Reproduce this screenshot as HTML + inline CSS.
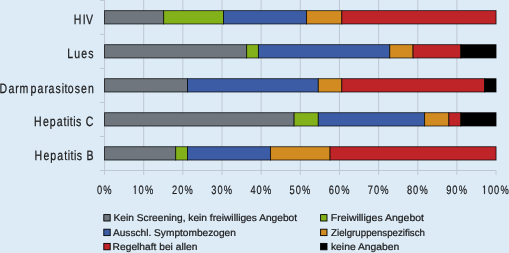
<!DOCTYPE html>
<html><head><meta charset="utf-8"><style>
html,body{margin:0;padding:0;background:#ddebf7;width:509px;height:253px;overflow:hidden}
svg{display:block;will-change:transform}
text{font-family:"Liberation Sans",sans-serif;fill:#1a1a1a;text-rendering:geometricPrecision}
.yl{font-size:12px;stroke:#1a1a1a;stroke-width:0.25px}
.xl{font-size:11px;stroke:#1a1a1a;stroke-width:0.2px}
.lg{font-size:9.8px;stroke:#1a1a1a;stroke-width:0.22px}
</style></head><body>
<svg width="509" height="253" viewBox="0 0 509 253">
<line x1="143.70" y1="0" x2="143.70" y2="174.80" stroke="#bec8d3" stroke-width="1"/>
<line x1="182.85" y1="0" x2="182.85" y2="174.80" stroke="#bec8d3" stroke-width="1"/>
<line x1="222.00" y1="0" x2="222.00" y2="174.80" stroke="#bec8d3" stroke-width="1"/>
<line x1="261.15" y1="0" x2="261.15" y2="174.80" stroke="#bec8d3" stroke-width="1"/>
<line x1="300.30" y1="0" x2="300.30" y2="174.80" stroke="#bec8d3" stroke-width="1"/>
<line x1="339.45" y1="0" x2="339.45" y2="174.80" stroke="#bec8d3" stroke-width="1"/>
<line x1="378.60" y1="0" x2="378.60" y2="174.80" stroke="#bec8d3" stroke-width="1"/>
<line x1="417.75" y1="0" x2="417.75" y2="174.80" stroke="#bec8d3" stroke-width="1"/>
<line x1="456.90" y1="0" x2="456.90" y2="174.80" stroke="#bec8d3" stroke-width="1"/>
<line x1="496.05" y1="170.50" x2="496.05" y2="174.80" stroke="#bec8d3" stroke-width="1"/>
<line x1="100" y1="170.50" x2="496.05" y2="170.50" stroke="#bec8d3" stroke-width="1"/>
<line x1="104.55" y1="0" x2="104.55" y2="174.80" stroke="#bec8d3" stroke-width="1"/>
<line x1="100" y1="0.40" x2="104.55" y2="0.40" stroke="#bec8d3" stroke-width="1"/>
<line x1="100" y1="34.42" x2="104.55" y2="34.42" stroke="#bec8d3" stroke-width="1"/>
<line x1="100" y1="68.44" x2="104.55" y2="68.44" stroke="#bec8d3" stroke-width="1"/>
<line x1="100" y1="102.46" x2="104.55" y2="102.46" stroke="#bec8d3" stroke-width="1"/>
<line x1="100" y1="136.48" x2="104.55" y2="136.48" stroke="#bec8d3" stroke-width="1"/>
<line x1="100" y1="170.50" x2="104.55" y2="170.50" stroke="#bec8d3" stroke-width="1"/>
<rect x="104.55" y="10.65" width="59.12" height="13.3" fill="#6f767e" stroke="#000000" stroke-opacity="0.78" stroke-width="0.9"/>
<rect x="163.67" y="10.65" width="59.90" height="13.3" fill="#83b119" stroke="#000000" stroke-opacity="0.78" stroke-width="0.9"/>
<rect x="223.57" y="10.65" width="83.00" height="13.3" fill="#3c5da6" stroke="#000000" stroke-opacity="0.78" stroke-width="0.9"/>
<rect x="306.56" y="10.65" width="35.24" height="13.3" fill="#d28b21" stroke="#000000" stroke-opacity="0.78" stroke-width="0.9"/>
<rect x="341.80" y="10.65" width="154.25" height="13.3" fill="#bf2429" stroke="#000000" stroke-opacity="0.78" stroke-width="0.9"/>
<rect x="104.55" y="44.67" width="142.11" height="13.3" fill="#6f767e" stroke="#000000" stroke-opacity="0.78" stroke-width="0.9"/>
<rect x="246.66" y="44.67" width="11.75" height="13.3" fill="#83b119" stroke="#000000" stroke-opacity="0.78" stroke-width="0.9"/>
<rect x="258.41" y="44.67" width="131.35" height="13.3" fill="#3c5da6" stroke="#000000" stroke-opacity="0.78" stroke-width="0.9"/>
<rect x="389.76" y="44.67" width="23.29" height="13.3" fill="#d28b21" stroke="#000000" stroke-opacity="0.78" stroke-width="0.9"/>
<rect x="413.05" y="44.67" width="47.76" height="13.3" fill="#bf2429" stroke="#000000" stroke-opacity="0.78" stroke-width="0.9"/>
<rect x="460.81" y="44.67" width="35.24" height="13.3" fill="#000000" stroke="#000000" stroke-opacity="0.78" stroke-width="0.9"/>
<rect x="104.55" y="78.69" width="83.00" height="13.3" fill="#6f767e" stroke="#000000" stroke-opacity="0.78" stroke-width="0.9"/>
<rect x="187.55" y="78.69" width="130.76" height="13.3" fill="#3c5da6" stroke="#000000" stroke-opacity="0.78" stroke-width="0.9"/>
<rect x="318.31" y="78.69" width="23.49" height="13.3" fill="#d28b21" stroke="#000000" stroke-opacity="0.78" stroke-width="0.9"/>
<rect x="341.80" y="78.69" width="142.70" height="13.3" fill="#bf2429" stroke="#000000" stroke-opacity="0.78" stroke-width="0.9"/>
<rect x="484.50" y="78.69" width="11.55" height="13.3" fill="#000000" stroke="#000000" stroke-opacity="0.78" stroke-width="0.9"/>
<rect x="104.55" y="112.71" width="189.56" height="13.3" fill="#6f767e" stroke="#000000" stroke-opacity="0.78" stroke-width="0.9"/>
<rect x="294.11" y="112.71" width="24.19" height="13.3" fill="#83b119" stroke="#000000" stroke-opacity="0.78" stroke-width="0.9"/>
<rect x="318.31" y="112.71" width="106.29" height="13.3" fill="#3c5da6" stroke="#000000" stroke-opacity="0.78" stroke-width="0.9"/>
<rect x="424.60" y="112.71" width="24.27" height="13.3" fill="#d28b21" stroke="#000000" stroke-opacity="0.78" stroke-width="0.9"/>
<rect x="448.87" y="112.71" width="11.94" height="13.3" fill="#bf2429" stroke="#000000" stroke-opacity="0.78" stroke-width="0.9"/>
<rect x="460.81" y="112.71" width="35.24" height="13.3" fill="#000000" stroke="#000000" stroke-opacity="0.78" stroke-width="0.9"/>
<rect x="104.55" y="146.73" width="71.14" height="13.3" fill="#6f767e" stroke="#000000" stroke-opacity="0.78" stroke-width="0.9"/>
<rect x="175.69" y="146.73" width="11.86" height="13.3" fill="#83b119" stroke="#000000" stroke-opacity="0.78" stroke-width="0.9"/>
<rect x="187.55" y="146.73" width="83.00" height="13.3" fill="#3c5da6" stroke="#000000" stroke-opacity="0.78" stroke-width="0.9"/>
<rect x="270.55" y="146.73" width="59.51" height="13.3" fill="#d28b21" stroke="#000000" stroke-opacity="0.78" stroke-width="0.9"/>
<rect x="330.05" y="146.73" width="166.00" height="13.3" fill="#bf2429" stroke="#000000" stroke-opacity="0.78" stroke-width="0.9"/>
<rect x="103.8" y="214.60" width="6.4" height="6.4" fill="#6f767e" stroke="#000000" stroke-width="0.9"/>
<rect x="103.8" y="229.20" width="6.4" height="6.4" fill="#3c5da6" stroke="#000000" stroke-width="0.9"/>
<rect x="103.8" y="243.40" width="6.4" height="6.4" fill="#bf2429" stroke="#000000" stroke-width="0.9"/>
<rect x="320.6" y="214.60" width="6.4" height="6.4" fill="#83b119" stroke="#000000" stroke-width="0.9"/>
<rect x="320.6" y="229.20" width="6.4" height="6.4" fill="#d28b21" stroke="#000000" stroke-width="0.9"/>
<rect x="320.6" y="243.40" width="6.4" height="6.4" fill="#000000" stroke="#000000" stroke-width="0.9"/>
<text transform="scale(0.77,1)" x="125.82 134.16" y="193.90" class="xl" style="font-size:12.1px">0%</text>
<text transform="scale(0.77,1)" x="179.99 188.32" y="193.90" class="xl" style="font-size:12.1px">0%</text>
<path d="M515,0 L515,1220 L300,1060 L300,1215 L545,1409 L696,1409 L696,0 Z" transform="translate(132.47,193.90) scale(0.00455,-0.00591)" fill="#1a1a1a" stroke="#1a1a1a" stroke-width="0.2" vector-effect="non-scaling-stroke"/>
<text transform="scale(0.77,1)" x="223.47 231.42 239.75" y="193.90" class="xl" style="font-size:12.1px">20%</text>
<text transform="scale(0.77,1)" x="274.39 282.33 290.67" y="193.90" class="xl" style="font-size:12.1px">30%</text>
<text transform="scale(0.77,1)" x="325.32 333.27 341.60" y="193.90" class="xl" style="font-size:12.1px">40%</text>
<text transform="scale(0.77,1)" x="376.06 384.01 392.34" y="193.90" class="xl" style="font-size:12.1px">50%</text>
<text transform="scale(0.77,1)" x="426.84 434.79 443.12" y="193.90" class="xl" style="font-size:12.1px">60%</text>
<text transform="scale(0.77,1)" x="477.68 485.63 493.96" y="193.90" class="xl" style="font-size:12.1px">70%</text>
<text transform="scale(0.77,1)" x="528.58 536.52 544.86" y="193.90" class="xl" style="font-size:12.1px">80%</text>
<text transform="scale(0.77,1)" x="579.40 587.34 595.68" y="193.90" class="xl" style="font-size:12.1px">90%</text>
<text transform="scale(0.77,1)" x="633.61 641.56 649.89" y="193.90" class="xl" style="font-size:12.1px">00%</text>
<path d="M515,0 L515,1220 L300,1060 L300,1215 L545,1409 L696,1409 L696,0 Z" transform="translate(481.76,193.90) scale(0.00455,-0.00591)" fill="#1a1a1a" stroke="#1a1a1a" stroke-width="0.2" vector-effect="non-scaling-stroke"/>
<text transform="scale(0.78,1)" x="94.66 106.22 110.29" y="24.00" class="yl" style="font-size:13.5px">HIV</text>
<text transform="scale(0.78,1)" x="86.20 95.21 104.22 113.22" y="58.30" class="yl" style="font-size:13.5px">Lues</text>
<text transform="scale(0.78,1)" x="-0.72 10.79 19.66 24.97 39.17 48.04 56.91 62.22 71.08 79.05 82.60 87.02 95.89 103.86 112.73" y="92.60" class="yl" style="font-size:13.5px">Darmparasitosen</text>
<text transform="scale(0.78,1)" x="43.51 55.00 63.86 72.71 81.57 85.99 89.53 93.95 97.48 105.44 109.87" y="126.00" class="yl" style="font-size:13.5px">Hepatitis C</text>
<text transform="scale(0.78,1)" x="44.15 55.70 64.59 73.49 82.38 86.82 90.38 94.82 98.37 106.37 110.81" y="160.00" class="yl" style="font-size:13.5px">Hepatitis B</text>
<text x="113.53" y="221.00" textLength="183.59" lengthAdjust="spacingAndGlyphs" class="lg">Kein Screening, kein freiwilliges Angebot</text>
<text x="112.91" y="235.60" textLength="123.00" lengthAdjust="spacingAndGlyphs" class="lg">Ausschl. Symptombezogen</text>
<text x="112.63" y="250.10" textLength="84.70" lengthAdjust="spacingAndGlyphs" class="lg">Regelhaft bei allen</text>
<text x="330.88" y="221.00" textLength="93.07" lengthAdjust="spacingAndGlyphs" class="lg">Freiwilliges Angebot</text>
<text x="331.10" y="235.60" textLength="93.81" lengthAdjust="spacingAndGlyphs" class="lg">Zielgruppenspezifisch</text>
<text x="330.95" y="250.10" textLength="68.37" lengthAdjust="spacingAndGlyphs" class="lg">keine Angaben</text>
</svg>
</body></html>
